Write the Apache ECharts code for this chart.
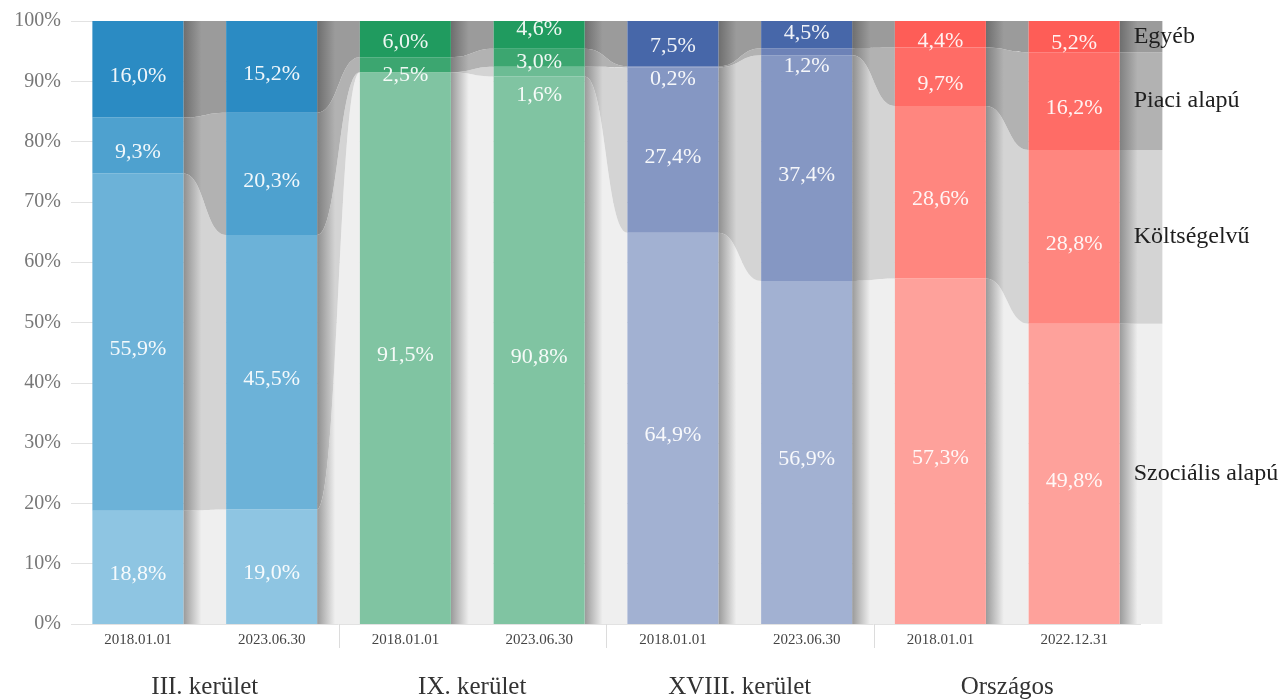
<!DOCTYPE html>
<html>
<head>
<meta charset="utf-8">
<script src="https://cdn.jsdelivr.net/npm/echarts/dist/echarts.min.js"></script>
<style>
html,body{margin:0;padding:0;background:#fff;}
#chart{width:1285px;height:700px;}
</style>
</head>
<body>
<div id="chart"></div>
<script>
// ---------------- data ----------------
const dates = ['2018.01.01','2023.06.30','2018.01.01','2023.06.30','2018.01.01','2023.06.30','2018.01.01','2022.12.31'];
const groups = ['III. kerület','IX. kerület','XVIII. kerület','Országos'];
const categories = ['Szociális alapú','Költségelvű','Piaci alapú','Egyéb'];
const szocialis   = [18.8, 19.0, 91.5, 90.8, 64.9, 56.9, 57.3, 49.8];
const koltsegelvu = [55.9, 45.5,  0.0,  1.6, 27.4, 37.4, 28.6, 28.8];
const piaci       = [ 9.3, 20.3,  2.5,  3.0,  0.2,  1.2,  9.7, 16.2];
const egyeb       = [16.0, 15.2,  6.0,  4.6,  7.5,  4.5,  4.4,  5.2];

// ---------------- styles ----------------
const FONT = "'Liberation Serif', 'DejaVu Serif', serif";
const BAR_W = 91;
const palettes = [
  ['#8ec5e2', '#6cb2d8', '#4ea1cf', '#2b8bc3'],   // blue
  ['#80c4a2', '#6cbc94', '#3ca670', '#209b5f'],   // green
  ['#a2b1d2', '#8597c3', '#6d82b7', '#4767a9'],   // slate
  ['#fea19b', '#ff867f', '#ff6c66', '#fe5d57']    // red
];
const ribbonBase = ['#efefef', '#d4d4d4', '#b2b2b2', '#9b9b9b'];
const ribbonDark = ['#9a9a9a', '#8f8f8f', '#808080', '#6e6e6e'];

const seriesVals = [szocialis, koltsegelvu, piaci, egyeb];
const cum = dates.map((_, i) => {
  const arr = [0];
  seriesVals.forEach(s => arr.push(arr[arr.length - 1] + s[i]));
  return arr;
});

function fmt(v) { return v.toFixed(1).replace('.', ',') + '%'; }

function layoutLabels(des, gap) {
  const res = [];
  des.forEach(d => {
    res.push({ sum: d, n: 1, top: d });
    while (res.length > 1) {
      const a = res[res.length - 2], b = res[res.length - 1];
      if (a.top + a.n * gap > b.top) {
        const m = { sum: a.sum + b.sum, n: a.n + b.n };
        m.top = m.sum / m.n - gap * (m.n - 1) / 2;
        res.splice(-2, 2, m);
      } else break;
    }
  });
  const out = [];
  res.forEach(c => { for (let j = 0; j < c.n; j++) out.push(c.top + j * gap); });
  return out;
}

const chart = echarts.init(document.getElementById('chart'), null, { renderer: 'canvas' });

const ribbonData = [];
for (let g = 0; g < dates.length; g++) for (let c = 0; c < 4; c++) ribbonData.push([g, c]);

function renderRibbon(params, api) {
  const g = api.value(0), c = api.value(1);
  const x0c = api.coord([g, 0])[0];
  const step = api.coord([1, 0])[0] - api.coord([0, 0])[0];
  const xa = x0c + BAR_W / 2;
  const xb = x0c + step - BAR_W / 2;
  const last = g === dates.length - 1;
  const lo0 = cum[g][c], hi0 = cum[g][c + 1];
  const lo1 = last ? lo0 : cum[g + 1][c];
  const hi1 = last ? hi0 : cum[g + 1][c + 1];
  const Y = v => api.coord([g, v])[1];
  const xm = (xa + xb) / 2;
  const yh0 = Y(hi0), yh1 = Y(hi1), yl0 = Y(lo0), yl1 = Y(lo1);
  const d = `M${xa},${yh0} C${xm},${yh0} ${xm},${yh1} ${xb},${yh1} L${xb},${yl1} C${xm},${yl1} ${xm},${yl0} ${xa},${yl0} Z`;
  const fill = new echarts.graphic.LinearGradient(0, 0, 1, 0, [
    { offset: 0, color: ribbonDark[c] },
    { offset: 0.42, color: ribbonBase[c] },
    { offset: 1, color: ribbonBase[c] }
  ]);
  const path = { type: 'path', shape: { pathData: d }, style: { fill: fill, stroke: null } };
  if (!last) return path;
  return {
    type: 'group',
    children: [
      path,
      {
        type: 'text', z2: 100,
        style: {
          text: categories[c], x: xa + 14, y: (yh0 + yl0) / 2,
          fill: '#1e1e1e', font: '24px ' + FONT, verticalAlign: 'middle', align: 'left'
        }
      }
    ]
  };
}

function renderLabels(params, api) {
  const i = api.value(0);
  const OFFSET = 7, GAP = 33;
  const items = [];
  for (let c = 3; c >= 0; c--) {
    const v = seriesVals[c][i];
    if (v <= 0) continue;
    const yc = (api.coord([i, cum[i][c]])[1] + api.coord([i, cum[i][c + 1]])[1]) / 2 + OFFSET;
    items.push({ v, yc });
  }
  const ys = layoutLabels(items.map(o => o.yc), GAP);
  const x = api.coord([i, 0])[0];
  const children = items.map((o, k) => ({
    type: 'text', z2: 50,
    style: {
      text: fmt(o.v), x: x, y: ys[k], fill: 'rgba(255,255,255,0.92)',
      font: '22px ' + FONT, align: 'center', verticalAlign: 'middle'
    }
  }));
  // group separator below the axis, before the first bar of each group (except the first)
  if (i % 2 === 0 && i > 0) {
    const step = api.coord([1, 0])[0] - api.coord([0, 0])[0];
    const sx = Math.round(x - step / 2) + 0.5;
    const y0 = api.coord([i, 0])[1];
    children.push({
      type: 'line', shape: { x1: sx, y1: y0, x2: sx, y2: y0 + 24 },
      style: { stroke: '#dcdcdc', lineWidth: 1 }
    });
  }
  return { type: 'group', children };
}

const barSeries = seriesVals.map((vals, c) => ({
  type: 'bar', name: categories[c], stack: 'total', barWidth: BAR_W,
  silent: true, z: 3,
  data: vals.map(v => (v > 0 ? v : null)),
  itemStyle: { color: p => palettes[Math.floor(p.dataIndex / 2)][c] }
}));

const option = {
  animation: false,
  backgroundColor: '#ffffff',
  grid: { left: 71, right: 144, top: 21, bottom: 75, containLabel: false },
  xAxis: [
    {
      type: 'category', data: dates, gridIndex: 0,
      axisLine: { show: false },
      axisTick: { show: false },
      axisLabel: { fontFamily: FONT, fontSize: 15, color: '#444', margin: 9, interval: 0 }
    },
    {
      type: 'category', data: groups, gridIndex: 0, position: 'bottom', offset: 42,
      axisLine: { show: false }, axisTick: { show: false },
      axisLabel: { fontFamily: FONT, fontSize: 25, color: '#333', margin: 9, interval: 0 }
    }
  ],
  yAxis: {
    type: 'value', min: 0, max: 100, interval: 10,
    axisLine: { show: false }, axisTick: { show: false },
    splitLine: { show: true, lineStyle: { color: '#e2e2e2' } },
    axisLabel: { formatter: '{value}%', fontFamily: FONT, fontSize: 20, color: '#777', margin: 10 }
  },
  series: [
    {
      type: 'custom', name: 'ribbons', silent: true, z: 2, clip: false,
      xAxisIndex: 0, yAxisIndex: 0,
      renderItem: renderRibbon, data: ribbonData
    },
    ...barSeries,
    {
      type: 'custom', name: 'labels', silent: true, z: 5, clip: false,
      xAxisIndex: 0, yAxisIndex: 0,
      renderItem: renderLabels, data: dates.map((_, i) => [i])
    }
  ]
};
chart.setOption(option);
</script>
</body>
</html>
